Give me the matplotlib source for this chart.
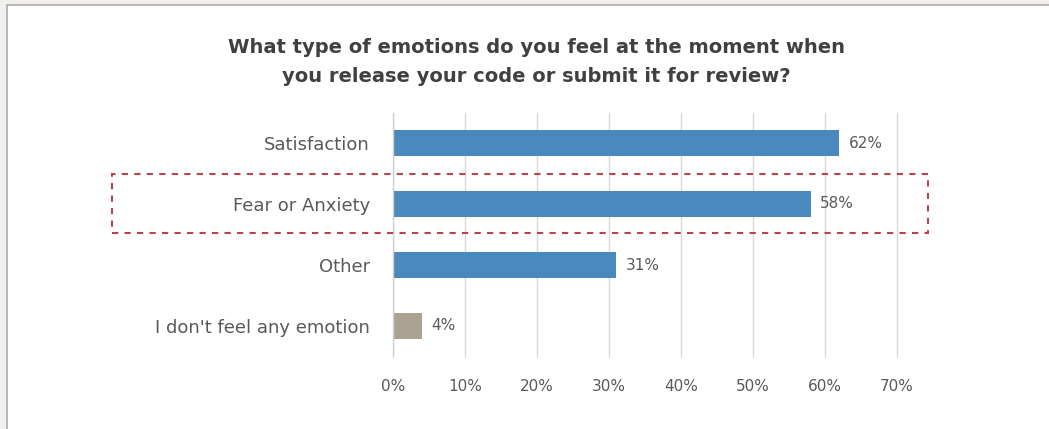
import matplotlib
matplotlib.use("Agg")
import matplotlib.pyplot as plt
from matplotlib.patches import Rectangle

categories = ["Satisfaction", "Fear or Anxiety", "Other", "I don't feel any emotion"]
values = [62, 58, 31, 4]
bar_colors = ["#4a89bd", "#4a89bd", "#4a89bd", "#aca291"]
xticks = [0, 10, 20, 30, 40, 50, 60, 70]
title = "What type of emotions do you feel at the moment when\nyou release your code or submit it for review?"

W, H = 1049, 429
TXT = "#595959"
plt.rcParams["font.family"] = ["DejaVu Sans"]

fig = plt.figure(figsize=(W / 100, H / 100), dpi=100, facecolor="#f0f0f0")
# white chart panel with thin frame (image is cropped at right/bottom)
fig.patches.append(Rectangle((7 / W, -0.05), 1.1, 1 - 5 / H + 0.05, transform=fig.transFigure,
                             facecolor="white", edgecolor="#b3ab9d", lw=1.2, zorder=-10))

ax = fig.add_axes([393 / W, 1 - 356.5 / H, (897 - 393) / W, (356.5 - 112.5) / H])
ax.set_facecolor("none")
y = list(range(len(categories)))
ax.barh(y, values, height=0.42, color=bar_colors, zorder=3)
for yi, v in zip(y, values):
    ax.text(v + 1.3, yi, f"{v}%", va="center", ha="left", fontsize=11, color=TXT)

ax.set_xlim(0, 70)
ax.set_ylim(len(categories) - 0.5, -0.5)
ax.set_yticks(y)
ax.set_yticklabels(categories, fontsize=13, color=TXT)
ax.set_xticks(xticks)
ax.set_xticklabels([f"{t}%" for t in xticks], fontsize=11, color=TXT)
ax.tick_params(axis="y", length=0, pad=16.5)
ax.tick_params(axis="x", length=0, pad=16)
ax.grid(axis="x", color="#d9d9d9", lw=1, zorder=0)
for gl in ax.get_xgridlines():
    gl.set_clip_on(False)
ax.axvline(0, color="#d0d0d0", lw=1, zorder=4)
for s in ax.spines.values():
    s.set_visible(False)

fig.text(536 / W, 1 - 62 / H, title, ha="center", va="center", fontsize=14, fontweight="bold",
         color="#404040", linespacing=1.65)

# highlight box around "Fear or Anxiety"
fig.patches.append(Rectangle((112 / W, 1 - 233 / H), (928 - 112) / W, (233 - 174) / H,
                             transform=fig.transFigure, fill=False, edgecolor="#b5474b",
                             lw=1.5, ls=(0, (3, 3)), zorder=5))

fig.savefig("out.png", dpi=100, facecolor=fig.get_facecolor())
